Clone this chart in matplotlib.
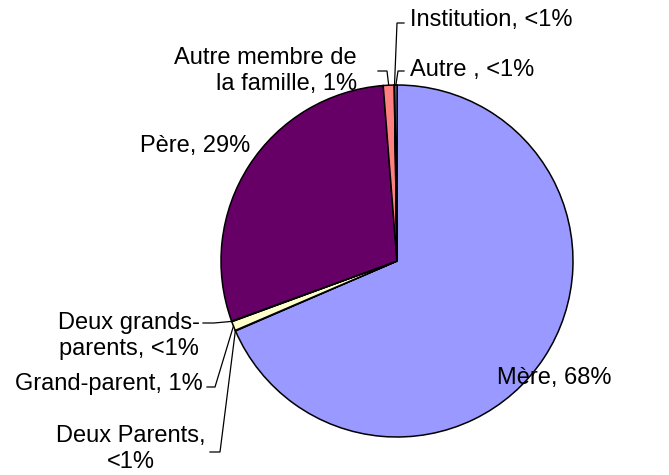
import numpy as np
import matplotlib
matplotlib.use("Agg")
import matplotlib.pyplot as plt

categories = ["Mère", "Deux Parents", "Grand-parent", "Deux grands-parents",
              "Père", "Autre membre de la famille", "Institution", "Autre"]
values = [68.5, 0.05, 0.85, 0.05, 29.3, 1.0, 0.05, 0.2]
pct_labels = ["68%", "<1%", "1%", "<1%", "29%", "1%", "<1%", "<1%"]
colors = ["#9999FF", "#993366", "#FFFFCC", "#CCFFFF",
          "#660066", "#FF8080", "#0066CC", "#CCCCFF"]

W, H = 669, 475
fig = plt.figure(figsize=(W / 100, H / 100), dpi=100)
ax = fig.add_axes([0, 0, 1, 1])

cx, cy, R = 397, H - 261, 176
wedges, _ = ax.pie(values, colors=colors, startangle=90, counterclock=False,
                   center=(cx, cy), radius=R, frame=True,
                   wedgeprops=dict(edgecolor="black", linewidth=1.1))
ax.set_xlim(0, W)
ax.set_ylim(0, H)
ax.set_aspect("equal")
ax.axis("off")

FONT = dict(family="Liberation Sans", fontsize=17, color="black")


def edge_point(i):
    w = wedges[i]
    th = np.deg2rad((w.theta1 + w.theta2) / 2)
    return cx + R * np.cos(th), cy + R * np.sin(th)


def Y(y):
    return H - y


def leader(i, x0, x1, y):
    ex, ey = edge_point(i)
    ax.plot([x0, x1, ex], [Y(y), Y(y), ey], color="black", lw=0.9,
            solid_joinstyle="miter")


def lab(i):
    return f"{categories[i]}, {pct_labels[i]}"


LS = 1.2
# Mère
ax.text(497, Y(378), lab(0), ha="left", va="center", **FONT)
# Père
ax.text(195, Y(146), lab(4), ha="center", va="center", **FONT)
# Institution
ax.text(410, Y(20), lab(6), ha="left", va="center", **FONT)
leader(6, 404, 397, 23)
# Autre
ax.text(410, Y(70), "Autre , " + pct_labels[7], ha="left", va="center", **FONT)
leader(7, 404, 398, 71)
# Autre membre de la famille
ax.text(357, Y(71), "Autre membre de\nla famille, " + pct_labels[5],
        ha="right", va="center", multialignment="right", linespacing=LS, **FONT)
leader(5, 378, 387, 71)
# Deux grands-parents
ax.text(129, Y(336), "Deux grands-\nparents, " + pct_labels[3],
        ha="center", va="center", multialignment="center", linespacing=LS, **FONT)
leader(3, 203, 214, 323)
# Grand-parent
ax.text(203, Y(384), lab(2), ha="right", va="center", **FONT)
leader(2, 207, 215, 387)
# Deux Parents
ax.text(131, Y(449), "Deux Parents,\n" + pct_labels[1],
        ha="center", va="center", multialignment="center", linespacing=LS, **FONT)
leader(1, 210, 220, 452)

fig.savefig("out.png", dpi=100)
